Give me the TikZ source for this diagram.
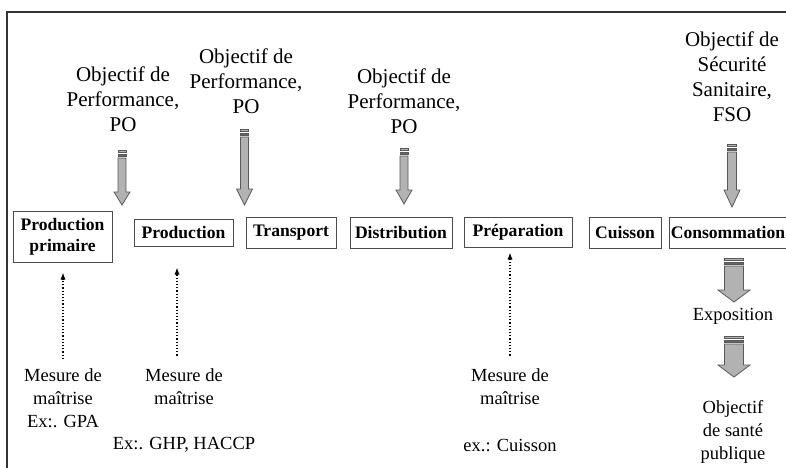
\documentclass[tikz,border=0pt]{standalone}
\usepackage{fontspec}
\setmainfont{Liberation Serif}
\usetikzlibrary{calc, arrows.meta}

\tikzset{
  etape/.style = {draw=black!70, line width=0.5pt, inner sep=0pt, align=center,
                  font=\fontsize{8.8}{10.5}\selectfont\bfseries},
  objectif/.style = {inner sep=0pt, align=center, font=\fontsize{10.5}{12.5}\selectfont},
  mesure/.style = {inner sep=0pt, align=center, font=\fontsize{9.25}{11.5}\selectfont},
  controle/.style = {densely dotted, line width=0.6pt, -{Latex[length=3.5pt, width=2.6pt]}},
  fleche/.style = {draw=black!65, fill=black!30, line width=0.4pt},
}

% grosse fleche rayee : depart, pointe, demi-fut, demi-tete, longueur tete
\newcommand{\grossefleche}[5]{%
  \fill[fleche] ($(#1)+(-#3,8)$) -- ($(#2)+(-#3,-#5)$) -- ($(#2)+(-#4,-#5)$) -- (#2)
    -- ($(#2)+(#4,-#5)$) -- ($(#2)+(#3,-#5)$) -- ($(#1)+(#3,8)$) -- cycle;
  \fill[fleche] ($(#1)+(-#3,0)$) rectangle ($(#1)+(#3,2.5)$);
  \fill[fleche, fill=black!60] ($(#1)+(-#3,4)$) rectangle ($(#1)+(#3,6.5)$);
}

\begin{document}
\begin{tikzpicture}[x=0.5pt, y=-0.5pt]
  \useasboundingbox (0,0) rectangle (786,468);
  \draw[black!80, line width=0.8pt] (7,468) -- (7,12) -- (786,12);

  % chaine alimentaire
  \node[etape, minimum width=49.5pt, minimum height=25.5pt] (prodprim) at (62.5,236.5) {Production\\primaire};
  \node[etape, minimum width=49.5pt, minimum height=13.5pt] (prod) at (183.5,232.5) {Production};
  \node[etape, minimum width=45pt, minimum height=15.5pt] (transport) at (291,232.5) {Transport};
  \node[etape, minimum width=51pt, minimum height=15.5pt] (distrib) at (401,232.5) {Distribution};
  \node[etape, minimum width=54pt, minimum height=15pt] (prepa) at (518,232) {Préparation};
  \node[etape, minimum width=36pt, minimum height=15.5pt] (cuisson) at (625,232.5) {Cuisson};
  \node[etape, minimum width=59pt, minimum height=15.5pt] (conso) at (728,232.5) {Consommation};

  % objectifs
  \node[objectif, anchor=south] (objA) at (123,132) {Objectif de\\Performance,\\PO};
  \node[objectif, anchor=south] (objB) at (246,114) {Objectif de\\Performance,\\PO};
  \node[objectif, anchor=south] (objC) at (404,134) {Objectif de\\Performance,\\PO};
  \node[objectif, anchor=south] (fso) at (732,122) {Objectif de\\Sécurité\\Sanitaire,\\FSO};

  \coordinate (poA) at (122,150);
  \coordinate (poA-bout) at (122,205);
  \coordinate (poB) at (244.5,129);
  \coordinate (poB-bout) at (244.5,205);
  \coordinate (poC) at (404,148);
  \coordinate (poC-bout) at (404,204);
  \coordinate (poF) at (732,144);
  \coordinate (poF-bout) at (732,207);
  \grossefleche{poA}{poA-bout}{4}{8}{13}
  \grossefleche{poB}{poB-bout}{4}{8}{16}
  \grossefleche{poC}{poC-bout}{4}{8}{14}
  \grossefleche{poF}{poF-bout}{4.5}{8}{17}

  % mesures de maitrise
  \node[mesure] (mesureA) at (63,398) {Mesure de\\maîtrise\\Ex:. GPA};
  \node[mesure] (mesureB) at (184,387) {Mesure de\\maîtrise};
  \node[mesure] (exB) at (184,445) {Ex:. GHP, HACCP};
  \node[mesure] (mesureC) at (510,387) {Mesure de\\maîtrise};
  \node[mesure] (exC) at (510,445) {ex.: Cuisson};

  \draw[controle, shorten <=4.5pt, shorten >=5pt] (mesureA.north) -- (mesureA.north |- prodprim.south);
  \draw[controle, shorten <=6.5pt, shorten >=10.5pt] ([xshift=-3.5pt]mesureB.north) -- ([xshift=-3.5pt]mesureB.north |- prod.south);
  \draw[controle, shorten <=6.5pt, shorten >=2.5pt] (mesureC.north) -- (mesureC.north |- prepa.south);

  % exposition
  \node[mesure] (expo) at (733,316) {Exposition};
  \node[mesure] (sante) at (733,432) {Objectif\\de santé\\publique};
  \coordinate (ex1) at (734,258);
  \coordinate (ex1-bout) at (734,302);
  \coordinate (ex2) at (734,336);
  \coordinate (ex2-bout) at (734,377);
  \grossefleche{ex1}{ex1-bout}{9.5}{16}{12}
  \grossefleche{ex2}{ex2-bout}{9.5}{16}{12}
\end{tikzpicture}
\end{document}
